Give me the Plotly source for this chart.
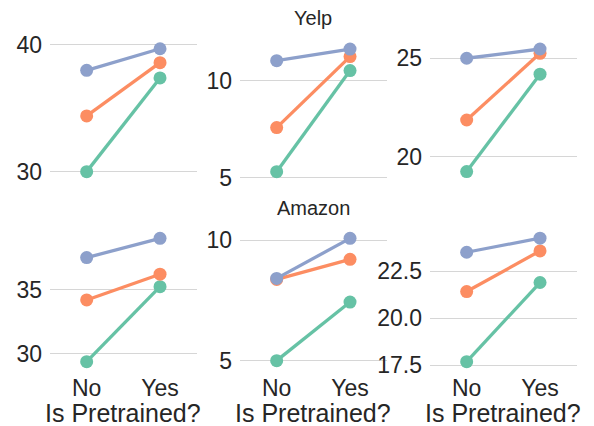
import plotly.graph_objects as go
from plotly.subplots import make_subplots

categories = ["No", "Yes"]
series_names = ["A", "B", "C"]
colors = ["#66c2a5", "#fc8d62", "#8da0cb"]

# panel values: [green, orange, blue], each [No, Yes]
p1 = [[30.0, 37.4], [34.4, 38.6], [38.0, 39.7]]
p2 = [[5.31, 10.52], [7.58, 11.24], [11.03, 11.63]]
p3 = [[19.24, 24.19], [21.86, 25.25], [25.0, 25.47]]
p4 = [[29.4, 35.23], [34.2, 36.2], [37.49, 38.99]]
p5 = [[5.0, 7.43], [8.37, 9.2], [8.41, 10.07]]
p6 = [[17.69, 21.9], [21.42, 23.58], [23.51, 24.26]]
panels = [p1, p2, p3, p4, p5, p6]

panel_titles = {2: "Yelp", 5: "Amazon"}
x_title = "Is Pretrained?"
y_ranges = [[29.34, 40.55], [4.88, 12.2], [18.81, 26.03],
            [28.6, 39.79], [4.53, 10.5], [17.14, 24.8]]
y_ticks = [[30, 40], [5, 10], [20, 25], [30, 35], [5, 10], [17.5, 20.0, 22.5]]
y_ticktext = [["30", "40"], ["5", "10"], ["20", "25"], ["30", "35"], ["5", "10"],
              ["17.5", "20.0", "22.5"]]

OFF = 8  # page body margin
W, H = 594 - OFF, 426 - OFF
x_px = [(50, 196.7), (240, 386.7), (430, 576.7)]
y_px = [(38, 180), (228, 372)]

fig = make_subplots(rows=2, cols=3)
FONT = "Liberation Sans, Arial, sans-serif"
TXT = "#262626"

def px_x(v):
    return (v - OFF) / W

def px_y(v):
    return 1 - (v - OFF) / H

for i, pdata in enumerate(panels):
    r, c = i // 3 + 1, i % 3 + 1
    for k, vals in enumerate(pdata):
        fig.add_trace(go.Scatter(
            x=categories, y=vals, mode="lines+markers",
            line=dict(color=colors[k], width=3.3),
            marker=dict(color=colors[k], size=13),
            showlegend=False, name=series_names[k]), row=r, col=c)
    idx = "" if i == 0 else str(i + 1)
    x0, x1 = x_px[c - 1]
    yt, yb = y_px[r - 1]
    fig.layout["xaxis" + idx].update(
        domain=[px_x(x0), px_x(x1)], range=[-0.5, 1.5], showgrid=False,
        zeroline=False, showline=False, ticks="", automargin=False,
        showticklabels=(r == 2), tickfont=dict(size=23, color=TXT, family=FONT))
    fig.layout["yaxis" + idx].update(
        domain=[px_y(yb), px_y(yt)], range=y_ranges[i],
        tickvals=y_ticks[i], ticktext=y_ticktext[i], automargin=False,
        showgrid=True, gridcolor="#d6d6d6", gridwidth=1.2,
        zeroline=False, showline=False, ticks="", ticklabelstandoff=7,
        tickfont=dict(size=23, color=TXT, family=FONT))
    if (i + 1) in panel_titles:
        fig.add_annotation(
            text=panel_titles[i + 1], xref="paper", yref="paper",
            x=px_x((x0 + x1) / 2), y=px_y(yt - 20), xanchor="center",
            yanchor="middle", showarrow=False,
            font=dict(size=20, color=TXT, family=FONT))
    if r == 2:
        fig.add_annotation(
            text=x_title, xref="paper", yref="paper",
            x=px_x((x0 + x1) / 2), y=px_y(413), xanchor="center",
            yanchor="middle", showarrow=False,
            font=dict(size=25, color=TXT, family=FONT))

fig.update_layout(width=W, height=H, margin=dict(l=0, r=0, t=0, b=0),
                  plot_bgcolor="white", paper_bgcolor="white")
fig.write_html("out.html")
